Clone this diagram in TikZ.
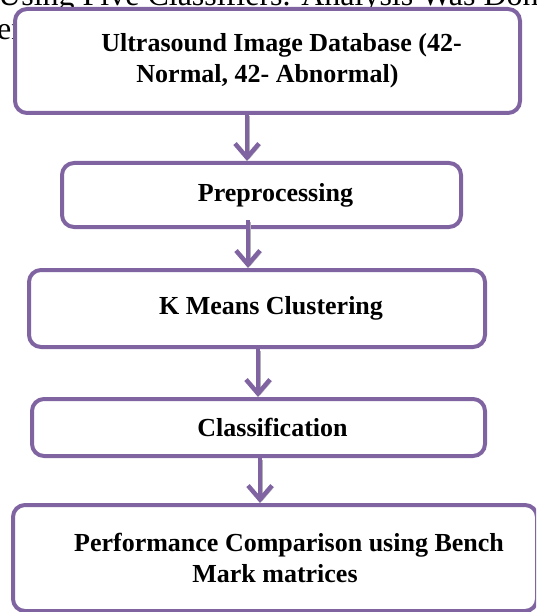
\documentclass[tikz,border=0pt]{standalone}
\usepackage{fontspec}
\setmainfont{Liberation Serif}
\usetikzlibrary{arrows.meta}
\definecolor{flowpurple}{HTML}{8064A2}
\newcommand{\ind}{\hspace*{28pt}}

\tikzset{
  block/.style={draw=flowpurple, line width=4pt, rounded corners=12pt, fill=white,
    align=center, inner sep=0pt, font=\bfseries\fontsize{26}{31}\selectfont},
  flow/.style={flowpurple, line width=4.5pt,
    -{Straight Barb[length=14pt,width=24pt,line width=4.5pt]},
    preaction={draw=gray!60, transform canvas={shift={(2pt,-1.5pt)}}}},
  pagetext/.style={anchor=base west, inner sep=0pt, font=\fontsize{32}{34}\selectfont}
}

\begin{document}
\begin{tikzpicture}[x=1pt, y=-1pt]
  \useasboundingbox (0,0) rectangle (536,612);
  \clip (0,0) rectangle (536,612);
  % page text behind the chart
  \node[pagetext] (pagetop) at (-2,6) {Using Five Classifiers. Analysis Was Done};
  \node[pagetext] (pageleft) at (-3,40) {er};
  % blocks
  \node[block, minimum width=505pt, minimum height=104pt] (db) at (267.5,61)
    {\ind Ultrasound Image Database (42-\\Normal, 42- Abnormal)};
  \node[block, minimum width=399pt, minimum height=64pt] (pre) at (261.5,195)
    {\ind Preprocessing};
  \node[block, minimum width=456pt, minimum height=77pt] (km) at (257,308.5)
    {\ind K Means Clustering};
  \node[block, minimum width=453pt, minimum height=57pt] (cls) at (258.5,427.5)
    {\ind Classification};
  \node[block, minimum width=524pt, minimum height=106pt] (perf) at (275,558)
    {\ind Performance Comparison using Bench\\Mark matrices};
  % arrows
  \coordinate (a1) at (247,0);
  \coordinate (a2) at (248,220);
  \coordinate (a3) at (258,0);
  \coordinate (a4) at (260,0);
  \draw[flow] (db.south -| a1) -- (pre.north -| a1);
  \draw[flow] (a2) -- (km.north -| a2);
  \draw[flow] (km.south -| a3) -- (cls.north -| a3);
  \draw[flow] (cls.south -| a4) -- (perf.north -| a4);
\end{tikzpicture}
\end{document}
